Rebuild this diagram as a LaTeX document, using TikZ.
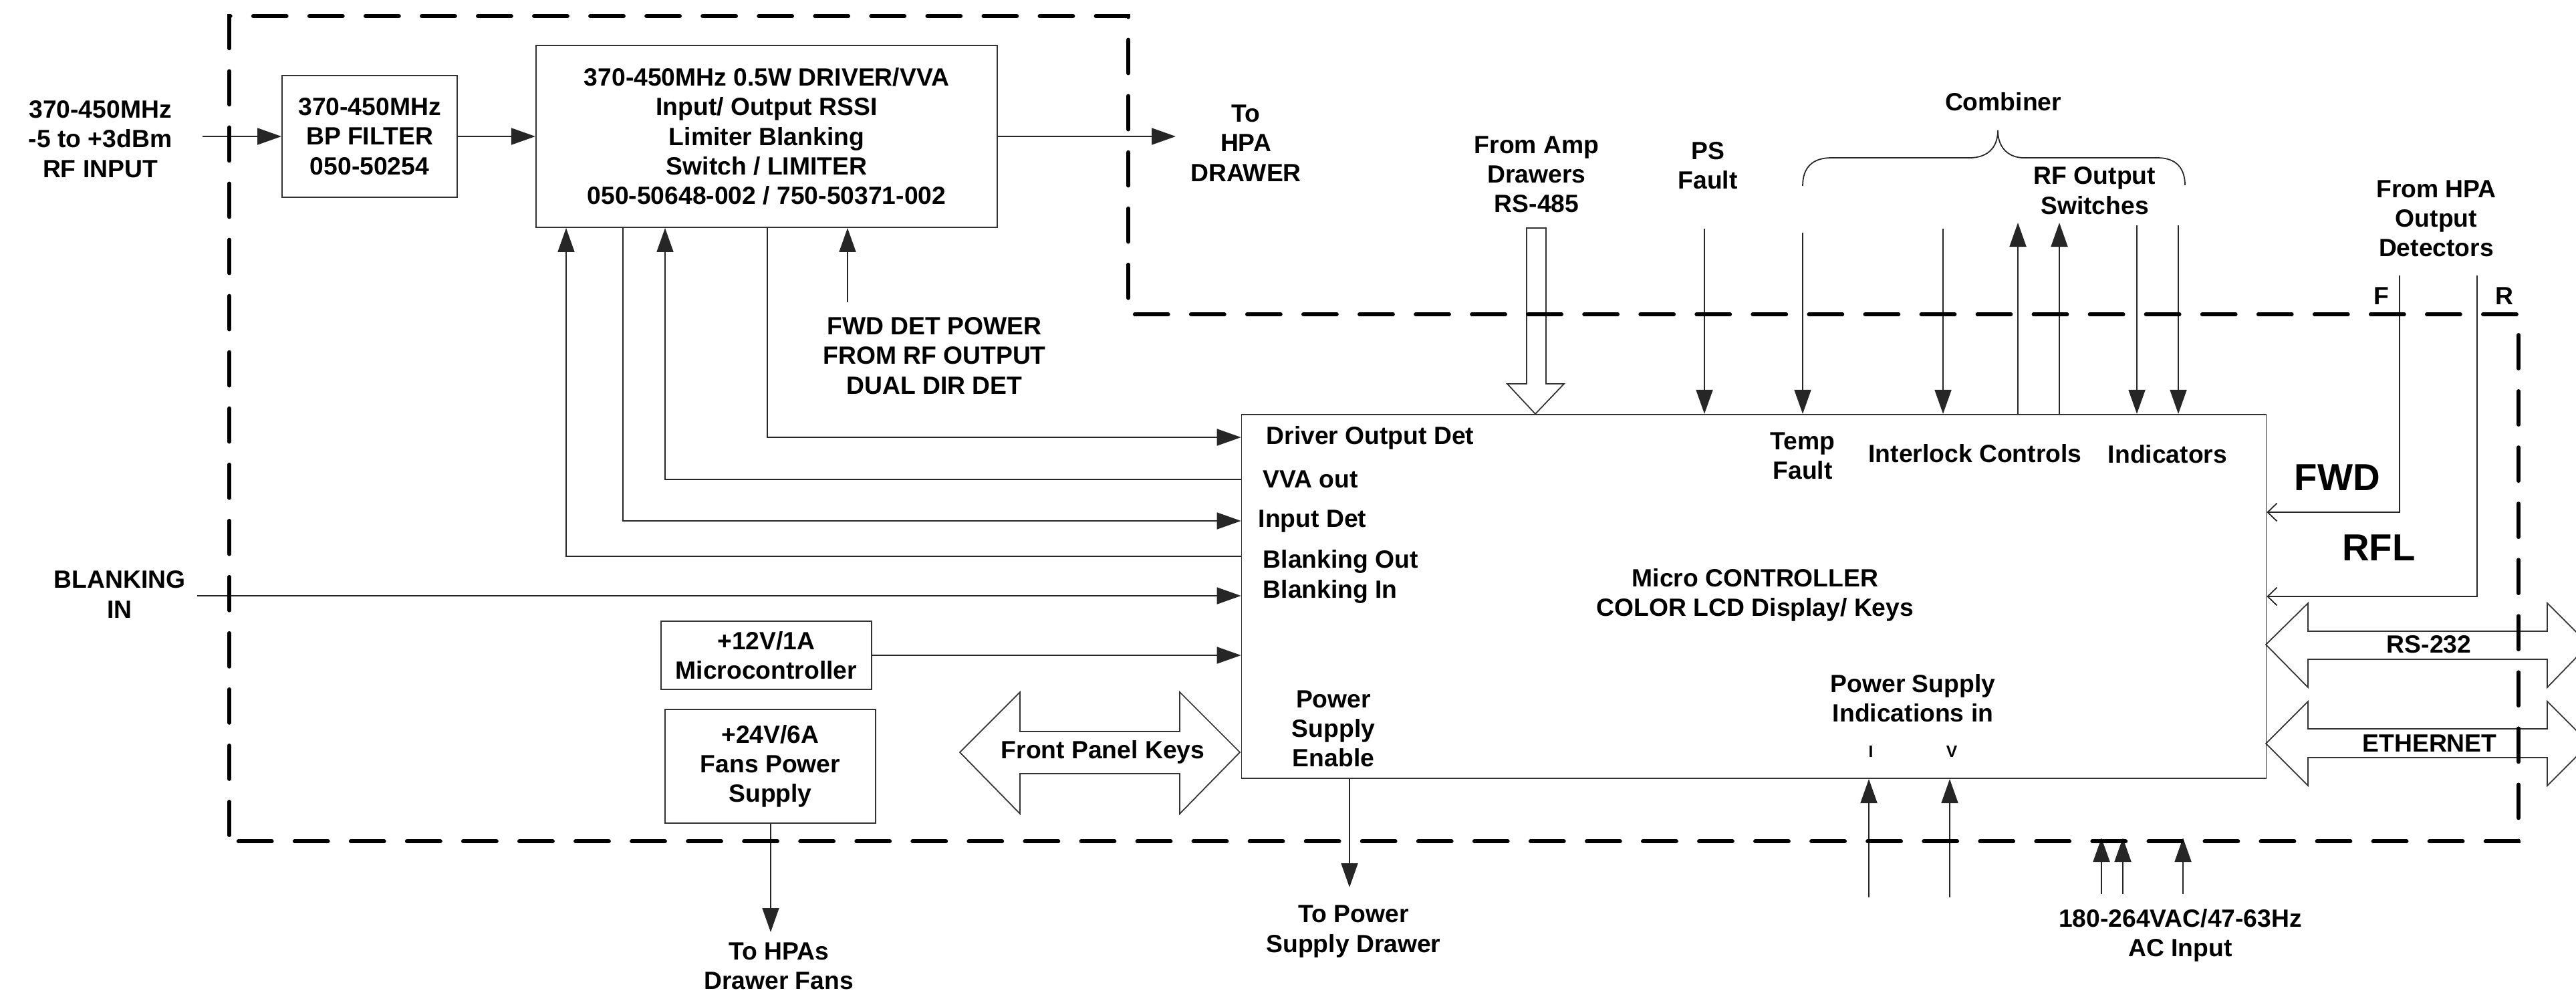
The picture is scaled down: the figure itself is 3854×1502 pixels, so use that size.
\documentclass[tikz,border=0pt]{standalone}
\usepackage{fontspec}
\setmainfont{Liberation Sans}
\usetikzlibrary{arrows.meta}
\begin{document}
\begin{tikzpicture}[x=0.01cm,y=-0.01cm,
  txt/.style={font=\fontsize{10.6}{12.6}\selectfont\bfseries,align=center,inner sep=0pt},
  lbl/.style={txt,anchor=west},
  big/.style={font=\fontsize{16}{19}\selectfont\bfseries,inner sep=0pt},
  tiny/.style={font=\fontsize{7}{8}\selectfont\bfseries,inner sep=0pt},
  box/.style={draw=black!80,line width=0.5pt,inner sep=0pt,txt},
  wire/.style={draw=black!85,line width=0.5pt},
  arr/.style={wire,-{Triangle[length=0.36cm,width=0.25cm]}},
  oarr/.style={wire,-{Straight Barb[length=0.14cm,width=0.27cm]}},
  frame/.style={line width=0.058cm,dash pattern=on 0.5cm off 0.34cm,line cap=round},
  fat/.style={draw=black!80,line width=0.5pt}
]
\useasboundingbox (0,0) rectangle (3854,1502);
\clip (0,0) rectangle (3854,1502);

% ---------- boxes ----------
\node[box,minimum width=2.62cm,minimum height=1.82cm] (bpf) at (553,204) {370-450MHz\\BP FILTER\\050-50254};
\node[box,minimum width=6.90cm,minimum height=2.72cm] (drv) at (1147,204) {370-450MHz 0.5W DRIVER/VVA\\Input/ Output RSSI\\Limiter Blanking\\Switch / LIMITER\\050-50648-002 / 750-50371-002};
\node[box,minimum width=15.32cm,minimum height=5.44cm] (mc) at (2624,892) {};
\node[box,minimum width=3.15cm,minimum height=1.02cm] (v12) at (1146.5,980) {+12V/1A\\Microcontroller};
\node[box,minimum width=3.15cm,minimum height=1.70cm] (v24) at (1152.5,1146) {+24V/6A\\Fans Power\\Supply};

% ---------- free texts ----------
\node[txt] (rfin) at (150,208) {370-450MHz\\-5 to +3dBm\\RF INPUT};
\node[txt] (tohpa) at (1864,214) {To\\HPA\\DRAWER};
\node[txt] (fdt) at (1398,532) {FWD DET POWER\\FROM RF OUTPUT\\DUAL DIR DET};
\node[txt] (blk) at (179,889) {BLANKING\\IN};
\node[txt] (amp) at (2299,261) {From Amp\\Drawers\\RS-485};
\node[txt] (psft) at (2555,248) {PS\\Fault};
\node[txt] (comb) at (2997,152) {Combiner};
\node[txt] (rfsw) at (3134,285) {RF Output\\Switches};
\node[txt] (hpad) at (3645,327) {From HPA\\Output\\Detectors};
\node[txt] (fl) at (3563,443) {F};
\node[txt] (rl) at (3747,443) {R};

\node[lbl] (l1) at (1894,655) {Driver Output Det};
\node[lbl] (l2) at (1889,717) {VVA out};
\node[lbl] (l3) at (1882,780) {Input Det};
\node[lbl] (l4) at (1889,840) {Blanking Out};
\node[lbl] (l5) at (1889,885) {Blanking In};
\node[txt] (tft) at (2697,682) {Temp\\Fault};
\node[txt] (ilt) at (2955,678) {Interlock Controls};
\node[txt] (indt) at (3243,679) {Indicators};
\node[txt] (mct) at (2626,890) {Micro CONTROLLER\\COLOR LCD Display/ Keys};
\node[txt] (pset) at (1995,1090) {Power\\Supply\\Enable};
\node[txt] (psit) at (2862,1044) {Power Supply\\Indications in};
\node[tiny] (it) at (2799,1124) {I};
\node[tiny] (vt) at (2920,1124) {V};
\node[big] (fwdt) at (3497,714) {FWD};
\node[big] (rflt) at (3559,819) {RFL};
\node[txt] (rs232) at (3634,964) {RS-232};
\node[txt] (eth) at (3635,1112) {ETHERNET};
\node[txt] (fpk) at (1650,1125) {Front Panel Keys};
\node[txt] (topsd) at (2025,1393) {To Power\\Supply Drawer};
\node[txt] (hpaf) at (1165,1445) {To HPAs\\Drawer Fans};
\node[txt] (act) at (3262,1399) {180-264VAC/47-63Hz\\AC Input};

% ---------- coordinates ----------
\coordinate (rfs) at (303,204);
\coordinate (hpa) at (1759,204);
\coordinate (bo) at (847,832);
\coordinate (id) at (932,779);
\coordinate (vv) at (995,717);
\coordinate (dod) at (1148,654);
\coordinate (fd) at (1268,452);
\coordinate (bi) at (295,891);
\coordinate (fan) at (1153,1394);
\coordinate (pse) at (2019,1327);
\coordinate (pi) at (2796,1342);
\coordinate (pv) at (2917,1342);
\coordinate (ac1) at (3144,1337);
\coordinate (ac2) at (3176,1337);
\coordinate (ac3) at (3266,1337);
\coordinate (ac1t) at (3144,1253);
\coordinate (ac2t) at (3176,1253);
\coordinate (ac3t) at (3266,1253);
\coordinate (psf) at (2550,342);
\coordinate (tf) at (2697,348);
\coordinate (il) at (2907,342);
\coordinate (sw1) at (3019,333);
\coordinate (sw2) at (3081,333);
\coordinate (in1) at (3197,337);
\coordinate (in2) at (3259,337);
\coordinate (fF) at (3590,412);
\coordinate (fR) at (3706,412);
\coordinate (fy) at (3590,766);
\coordinate (ry) at (3706,892);

% ---------- connectors ----------
\draw[arr] (rfs) -- (bpf.west);
\draw[arr] (bpf.east) -- (drv.west);
\draw[arr] (drv.east) -- (hpa);
\draw[arr] (mc.west |- bo) -| (drv.south -| bo);
\draw[arr] (drv.south -| id) |- (mc.west |- id);
\draw[arr] (mc.west |- vv) -| (drv.south -| vv);
\draw[arr] (drv.south -| dod) |- (mc.west |- dod);
\draw[arr] (fd) -- (drv.south -| fd);
\draw[arr] (bi) -- (mc.west |- bi);
\draw[arr] (v12.east) -- (mc.west |- v12.east);
\draw[arr] (v24.south -| fan) -- (fan);
\draw[arr] (mc.south -| pse) -- (pse);
\draw[arr] (pi) -- (mc.south -| pi);
\draw[arr] (pv) -- (mc.south -| pv);
\draw[arr] (ac1) -- (ac1t);
\draw[arr] (ac2) -- (ac2t);
\draw[arr] (ac3) -- (ac3t);
\draw[arr] (psf) -- (mc.north -| psf);
\draw[arr] (tf) -- (mc.north -| tf);
\draw[arr] (il) -- (mc.north -| il);
\draw[arr] (mc.north -| sw1) -- (sw1);
\draw[arr] (mc.north -| sw2) -- (sw2);
\draw[arr] (in1) -- (mc.north -| in1);
\draw[arr] (in2) -- (mc.north -| in2);
\draw[oarr] (fF) -- (fy) -- (mc.east |- fy);
\draw[oarr] (fR) -- (ry) -- (mc.east |- ry);

% RS-485 hollow arrow
\draw[fat] (2284,341) -- (2313,341) -- (2313,574) -- (2340,574) -- (2297,619) -- (2255,574) -- (2284,574) -- cycle;
% Front panel keys double arrow
\draw[fat] (1436,1125) -- (1526,1035) -- (1526,1094) -- (1765,1094) -- (1765,1035) -- (1855,1125) -- (1765,1217) -- (1765,1157) -- (1526,1157) -- (1526,1217) -- cycle;
% RS-232 and Ethernet double arrows
\draw[fat] (3390,964) -- (3453,902) -- (3453,944) -- (3811,944) -- (3811,902) -- (3873,964) -- (3811,1028) -- (3811,986) -- (3453,986) -- (3453,1028) -- cycle;
\draw[fat] (3390,1112) -- (3453,1049) -- (3453,1090) -- (3811,1090) -- (3811,1049) -- (3874,1112) -- (3811,1175) -- (3811,1133) -- (3453,1133) -- (3453,1175) -- cycle;

% Combiner brace
\draw[wire] (2697,278) .. controls (2697,250) and (2712,236) .. (2740,236) -- (2947,236) .. controls (2972,236) and (2989,222) .. (2989,195) .. controls (2989,222) and (3006,236) .. (3028,236) -- (3228,236) .. controls (3256,236) and (3269,252) .. (3269,277);

% dashed enclosure
\draw[frame] (343,1249) -- (343,24) -- (1688,24) -- (1688,470) -- (3768,470) -- (3768,1258) -- (343,1258);
\end{tikzpicture}
\end{document}
